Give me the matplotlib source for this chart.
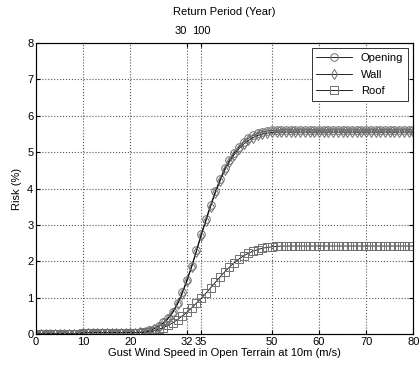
import numpy as np
import matplotlib.pyplot as plt

plt.rcParams['font.family'] = ['Liberation Sans', 'DejaVu Sans']
plt.rcParams['font.size'] = 8

#======data=========#
speed = np.arange(0, 81)

opening = [0.01, 0.01, 0.01, 0.01, 0.01, 0.01, 0.01, 0.01, 0.01, 0.01,
           0.04, 0.04, 0.04, 0.04, 0.04, 0.04, 0.04, 0.04, 0.04, 0.04,
           0.04, 0.04, 0.05, 0.07, 0.10, 0.15, 0.22, 0.32, 0.45, 0.62,
           0.85, 1.15, 1.50, 1.88, 2.30, 2.75, 3.15, 3.55, 3.92, 4.25,
           4.55, 4.78, 4.98, 5.14, 5.28, 5.38, 5.46, 5.52, 5.56, 5.58,
           5.60, 5.60, 5.61, 5.61, 5.61, 5.61, 5.61, 5.61, 5.61, 5.61,
           5.61, 5.61, 5.61, 5.61, 5.61, 5.61, 5.61, 5.61, 5.61, 5.61,
           5.61, 5.61, 5.61, 5.61, 5.61, 5.61, 5.61, 5.61, 5.61, 5.61,
           5.61]

wall = [0.01, 0.01, 0.01, 0.01, 0.01, 0.01, 0.01, 0.01, 0.01, 0.01,
        0.04, 0.04, 0.04, 0.04, 0.04, 0.04, 0.04, 0.04, 0.04, 0.04,
        0.04, 0.04, 0.05, 0.06, 0.09, 0.14, 0.20, 0.30, 0.42, 0.59,
        0.82, 1.11, 1.46, 1.84, 2.26, 2.70, 3.10, 3.50, 3.87, 4.20,
        4.50, 4.73, 4.93, 5.09, 5.22, 5.32, 5.40, 5.46, 5.50, 5.52,
        5.54, 5.55, 5.55, 5.55, 5.55, 5.55, 5.55, 5.55, 5.55, 5.55,
        5.55, 5.55, 5.55, 5.55, 5.55, 5.55, 5.55, 5.55, 5.55, 5.55,
        5.55, 5.55, 5.55, 5.55, 5.55, 5.55, 5.55, 5.55, 5.55, 5.55,
        5.55]

roof = [0.01, 0.01, 0.01, 0.01, 0.01, 0.01, 0.01, 0.01, 0.01, 0.01,
        0.04, 0.04, 0.04, 0.04, 0.04, 0.04, 0.04, 0.04, 0.04, 0.04,
        0.04, 0.04, 0.04, 0.05, 0.07, 0.09, 0.13, 0.18, 0.24, 0.31,
        0.40, 0.50, 0.60, 0.72, 0.85, 0.98, 1.12, 1.27, 1.42, 1.57,
        1.71, 1.84, 1.96, 2.06, 2.15, 2.22, 2.28, 2.32, 2.36, 2.38,
        2.40, 2.41, 2.42, 2.42, 2.42, 2.42, 2.42, 2.42, 2.42, 2.42,
        2.42, 2.42, 2.42, 2.42, 2.42, 2.42, 2.42, 2.42, 2.42, 2.42,
        2.42, 2.42, 2.42, 2.42, 2.42, 2.42, 2.42, 2.42, 2.42, 2.42,
        2.42]

xticks = [0, 10, 20, 32, 35, 50, 60, 70, 80]
period_pos = [32, 35]
period_lab = ["30", "100"]

#=====plot==========#
fig = plt.figure(figsize=(4.2, 3.7), dpi=100)
ax = fig.add_axes([0.086, 0.097, 0.898, 0.787])

mk = dict(color='black', lw=0.6, mfc='none', mec='#707070', mew=0.7, ms=5.5)
ax.plot(speed, opening, marker='o', label='Opening', **mk)
ax.plot(speed, wall, marker='d', label='Wall', **mk)
ax.plot(speed, roof, marker='s', label='Roof', **mk)

ax.set_xlim(0, 80)
ax.set_ylim(0, 8)
ax.set_xticks(xticks)
ax.set_yticks(range(0, 9))
ax.grid(True, ls=':', color='#555555', lw=0.8)
ax.tick_params(direction='in', length=3, top=True, right=True, pad=2)
ax.set_xlabel("Gust Wind Speed in Open Terrain at 10m (m/s)", labelpad=1)
ax.set_ylabel("Risk (%)", labelpad=4)
for s in ax.spines.values():
    s.set_color('#555555')

ax2 = ax.twiny()
ax2.set_xlim(0, 80)
ax2.set_xticks(period_pos)
ax2.set_xticklabels(period_lab)
ax2.get_xticklabels()[0].set_ha('right')
ax2.tick_params(direction='in', length=3, pad=5)
ax2.set_xlabel("Return Period (Year)", labelpad=8)

leg = ax.legend(loc='upper right', fancybox=False, edgecolor='#333333',
                framealpha=1, handlelength=3.2, labelspacing=0.6,
                borderaxespad=0.5)
leg.get_frame().set_linewidth(0.7)

plt.savefig("out.png", dpi=100)
